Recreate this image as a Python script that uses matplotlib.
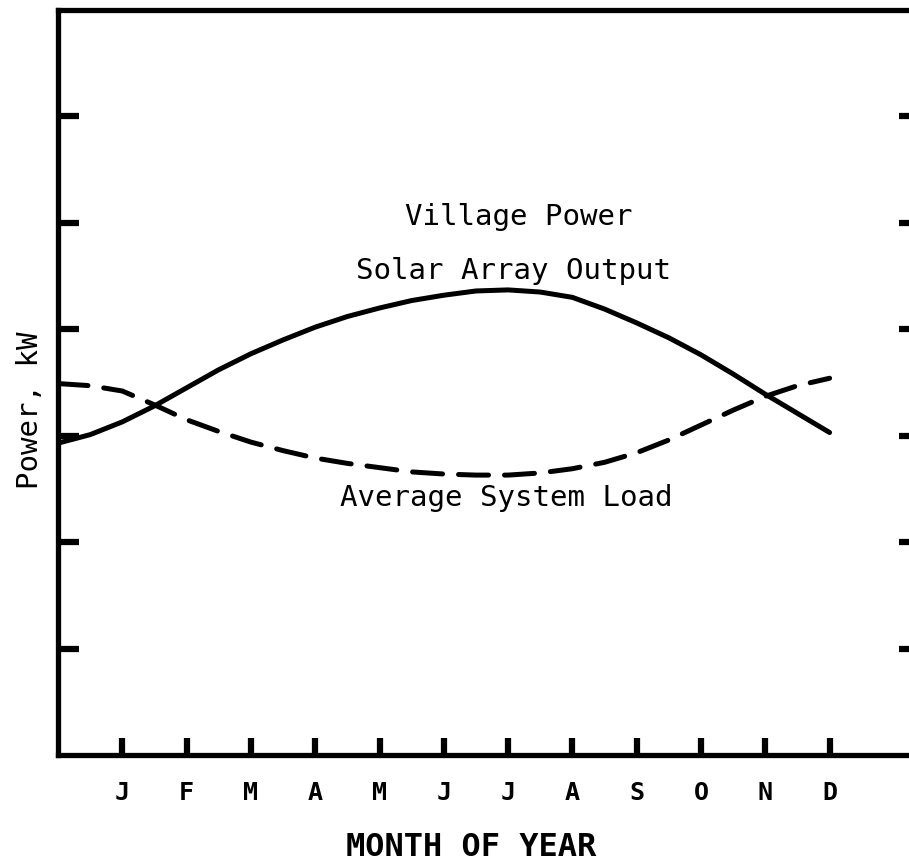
import numpy as np
import matplotlib.pyplot as plt

# month positions (0 = start of year, 1..12 = J..D ticks), sampled every half month
months = np.arange(0, 12.5, 0.5)
tick_pos = np.arange(1, 13)
month_labels = ["J", "F", "M", "A", "M", "J", "J", "A", "S", "O", "N", "D"]

# values (y units = one tick spacing)
solar_output = [2.93, 3.01, 3.13, 3.28, 3.45, 3.62, 3.77, 3.90, 4.02, 4.12, 4.20, 4.27,
                4.32, 4.36, 4.37, 4.35, 4.30, 4.19, 4.06, 3.92, 3.76, 3.58, 3.39, 3.21, 3.03]
system_load = [3.49, 3.47, 3.42, 3.29, 3.15, 3.04, 2.94, 2.86, 2.79, 2.74, 2.70, 2.66,
               2.64, 2.63, 2.63, 2.65, 2.69, 2.75, 2.84, 2.96, 3.10, 3.24, 3.37, 3.47, 3.54]

W, H = 909, 864
fig = plt.figure(figsize=(W / 100, H / 100), dpi=100)

# axes box runs past the right edge of the figure, as in the scan
left, right, top, bottom = 58, 920, 10, 755
ax = fig.add_axes([left / W, (H - bottom) / H, (right - left) / W, (bottom - top) / H])

ax.plot(months, solar_output, color="black", lw=3.6, solid_capstyle="round",
        solid_joinstyle="round")
ax.plot(months, system_load, color="black", lw=3.6, linestyle=(0, (6, 3.2)),
        dash_capstyle="round", dash_joinstyle="round")

ax.set_xlim(0, (right - left) / 64.3)
ax.set_ylim(0, 7)

mono = "DejaVu Sans Mono"
ax.set_xticks(tick_pos)
ax.set_xticklabels(month_labels, fontfamily=mono, fontweight="bold", fontsize=18)
ax.set_yticks(np.arange(1, 7))
ax.set_yticklabels([])

ax.tick_params(axis="x", direction="in", length=12, width=4.5, pad=19)
ax.tick_params(axis="y", direction="in", length=15, width=4.5, right=True)

for s in ax.spines.values():
    s.set_linewidth(3.8)

ax.set_xlabel("MONTH OF YEAR", fontfamily=mono, fontweight="bold", fontsize=23)
ax.xaxis.set_label_coords((471 - left) / (right - left), -(848 - bottom) / (bottom - top))
ax.xaxis.label.set_va("center")
ax.set_ylabel("Power, kW", fontfamily=mono, fontsize=21)
ax.yaxis.set_label_coords(-(left - 30) / (right - left), (bottom - 410) / (bottom - top))
ax.yaxis.label.set_va("center")


def px(x, y):
    return (x - left) / 64.3, (bottom - y) / 107


ax.text(*px(519, 214), "Village Power", fontfamily=mono, fontsize=21,
        ha="center", va="center")
ax.text(*px(513, 268), "Solar Array Output", fontfamily=mono, fontsize=21,
        ha="center", va="center")
ax.text(*px(506, 497), "Average System Load", fontfamily=mono, fontsize=21,
        ha="center", va="center")

fig.savefig("out.png", dpi=100)
